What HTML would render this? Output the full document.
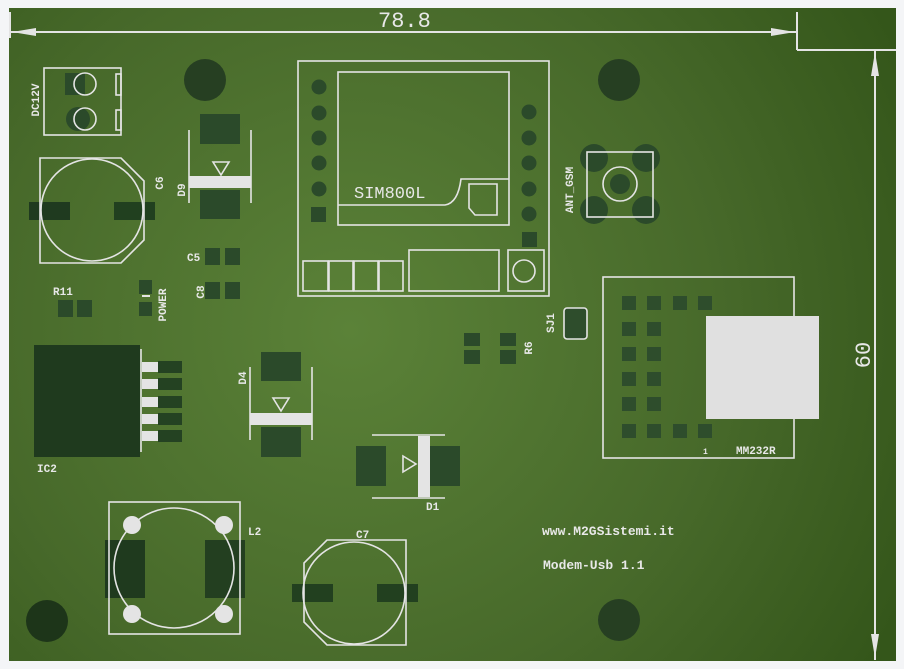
<!DOCTYPE html>
<html><head><meta charset="utf-8"><style>
html,body{margin:0;padding:0;background:#f4f5f7;width:904px;height:669px;overflow:hidden}
svg{display:block}
text{font-family:"Liberation Mono","DejaVu Sans Mono",monospace;fill:#e8e8e8;font-weight:bold}
</style></head><body>
<svg width="904" height="669" viewBox="0 0 904 669" xmlns="http://www.w3.org/2000/svg">
<defs>
<radialGradient id="bg" cx="350" cy="330" r="620" gradientUnits="userSpaceOnUse">
<stop offset="0" stop-color="#5b8238"/><stop offset="0.6" stop-color="#47692a"/><stop offset="1" stop-color="#34561a"/>
</radialGradient>
</defs>
<rect x="9" y="8" width="887" height="653" fill="url(#bg)"/>
<g stroke="#e4e4e4" stroke-width="2" fill="none">
<line x1="10" y1="32" x2="797" y2="32"/><line x1="10" y1="12" x2="10" y2="38"/>
<line x1="797" y1="12" x2="797" y2="50"/><line x1="797" y1="50" x2="896" y2="50"/>
<line x1="875" y1="50" x2="875" y2="660"/>
</g>
<g fill="#e4e4e4">
<polygon points="12,32 36,28 36,36"/><polygon points="795,32 771,28 771,36"/>
<polygon points="875,52 871,76 879,76"/><polygon points="875,658 871,634 879,634"/>
</g>
<text x="378" y="27" font-size="22" style="font-weight:normal">78.8</text>
<text transform="translate(870,355) rotate(-90)" font-size="22" text-anchor="middle" style="font-weight:normal">60</text>
<g fill="#263f22">
<circle cx="205" cy="80" r="21"/><circle cx="619" cy="80" r="21"/><circle cx="619" cy="620" r="21"/>
<circle cx="47" cy="621" r="21" fill="#1d3519"/>
</g>
<g fill="#2b4a2a">
<rect x="65" y="73" width="20" height="22"/><circle cx="78" cy="119" r="12"/>
<rect x="29" y="202" width="41" height="18" fill="#1f3a1f"/><rect x="114" y="202" width="41" height="18" fill="#21401f"/>
<rect x="200" y="114" width="40" height="30"/><rect x="200" y="190" width="40" height="29"/>
<rect x="205" y="248" width="15" height="17"/><rect x="225" y="248" width="15" height="17"/>
<rect x="205" y="282" width="15" height="17"/><rect x="225" y="282" width="15" height="17"/>
<rect x="58" y="300" width="15" height="17"/><rect x="77" y="300" width="15" height="17"/>
<rect x="139" y="280" width="13" height="14"/><rect x="139" y="302" width="13" height="14"/>
<circle cx="319" cy="87" r="7.5"/><circle cx="319" cy="113" r="7.5"/><circle cx="319" cy="138" r="7.5"/><circle cx="319" cy="163" r="7.5"/><circle cx="319" cy="189" r="7.5"/>
<rect x="311" y="207" width="15" height="15"/>
<circle cx="529" cy="112" r="7.5"/><circle cx="529" cy="138" r="7.5"/><circle cx="529" cy="163" r="7.5"/><circle cx="529" cy="189" r="7.5"/><circle cx="529" cy="214" r="7.5"/>
<rect x="522" y="232" width="15" height="15"/>
<circle cx="594" cy="158" r="14"/><circle cx="646" cy="158" r="14"/><circle cx="594" cy="210" r="14"/><circle cx="646" cy="210" r="14"/>
<circle cx="620" cy="184" r="10"/>
<rect x="464" y="333" width="16" height="13"/><rect x="464" y="350" width="16" height="14"/>
<rect x="500" y="333" width="16" height="13"/><rect x="500" y="350" width="16" height="14"/>
<rect x="261" y="352" width="40" height="29"/><rect x="261" y="427" width="40" height="30"/>
<rect x="356" y="446" width="30" height="40"/><rect x="430" y="446" width="30" height="40"/>
</g>
<g fill="#2e4d2c">
<rect x="622" y="296" width="14" height="14"/><rect x="647" y="296" width="14" height="14"/><rect x="673" y="296" width="14" height="14"/><rect x="698" y="296" width="14" height="14"/>
<rect x="622" y="322" width="14" height="14"/><rect x="647" y="322" width="14" height="14"/>
<rect x="622" y="347" width="14" height="14"/><rect x="647" y="347" width="14" height="14"/>
<rect x="622" y="372" width="14" height="14"/><rect x="647" y="372" width="14" height="14"/>
<rect x="622" y="397" width="14" height="14"/><rect x="647" y="397" width="14" height="14"/>
<rect x="622" y="424" width="14" height="14"/><rect x="647" y="424" width="14" height="14"/><rect x="673" y="424" width="14" height="14"/><rect x="698" y="424" width="14" height="14"/>
</g>
<rect x="34" y="345" width="106" height="112" fill="#1f3a1e"/>
<g fill="#e4e4e4"><rect x="142" y="362" width="16" height="10"/><rect x="142" y="379" width="16" height="10"/><rect x="142" y="397" width="16" height="10"/><rect x="142" y="414" width="16" height="10"/><rect x="142" y="431" width="16" height="10"/></g>
<g fill="#244222"><rect x="158" y="361" width="24" height="12"/><rect x="158" y="378" width="24" height="12"/><rect x="158" y="396" width="24" height="12"/><rect x="158" y="413" width="24" height="12"/><rect x="158" y="430" width="24" height="12"/></g>
<g fill="#e4e4e4">
<circle cx="132" cy="525" r="9"/><circle cx="224" cy="525" r="9"/><circle cx="132" cy="614" r="9"/><circle cx="224" cy="614" r="9"/>
</g>
<rect x="105" y="540" width="40" height="58" fill="#1f3a1e"/><rect x="205" y="540" width="40" height="58" fill="#233f20"/>
<rect x="292" y="584" width="41" height="18" fill="#22401f"/><rect x="377" y="584" width="41" height="18" fill="#22401f"/>
<g stroke="#e4e4e4" stroke-width="1.6" fill="none">
<rect x="44" y="68" width="77" height="67"/>
<circle cx="85" cy="84" r="11"/><circle cx="85" cy="119" r="11"/>
<rect x="116" y="74" width="5" height="21"/><rect x="116" y="110" width="5" height="20"/>
<polygon points="40,158 121,158 144,181 144,240 121,263 40,263"/>
<circle cx="92" cy="210" r="51"/>
<line x1="189" y1="130" x2="189" y2="203"/><line x1="251" y1="130" x2="251" y2="203"/>
<polygon points="213,162 229,162 221,175"/>
<rect x="298" y="61" width="251" height="235"/>
<rect x="338" y="72" width="171" height="153"/>
<path d="M338,205 H445 Q458,203 461,179 H509"/>
<path d="M469,184 H497 V215 H475 L469,208 Z"/>
<rect x="303" y="261" width="25" height="30"/><rect x="329" y="261" width="24" height="30"/><rect x="354" y="261" width="24" height="30"/><rect x="379" y="261" width="24" height="30"/>
<rect x="409" y="250" width="90" height="41"/>
<rect x="508" y="250" width="36" height="41"/><circle cx="524" cy="271" r="11"/>
<rect x="587" y="152" width="66" height="65"/>
<circle cx="620" cy="184" r="17"/>
<rect x="603" y="277" width="191" height="181"/>
<line x1="141" y1="349" x2="141" y2="452"/>
<line x1="250" y1="367" x2="250" y2="440"/><line x1="312" y1="367" x2="312" y2="440"/>
<polygon points="273,398 289,398 281,411"/>
<line x1="372" y1="435" x2="445" y2="435"/><line x1="372" y1="498" x2="445" y2="498"/>
<polygon points="403,456 403,472 416,464"/>
<rect x="109" y="502" width="131" height="132"/>
<circle cx="174" cy="568" r="60"/>
<polygon points="327,540 406,540 406,645 327,645 304,622 304,563"/>
<circle cx="354" cy="593" r="51"/>
</g>
<g fill="#e4e4e4">
<rect x="189" y="176" width="62" height="12"/>
<rect x="250" y="413" width="62" height="12"/>
<rect x="418" y="436" width="12" height="61"/>
<rect x="706" y="316" width="113" height="103" fill="#e0e0e0"/>
</g>
<rect x="564" y="308" width="23" height="31" rx="3" fill="#2e4d2c" stroke="#e4e4e4" stroke-width="1.6"/>
<rect x="142" y="295" width="8" height="2" fill="#e4e4e4"/>
<text x="354" y="198" font-size="17" style="font-weight:normal">SIM800L</text>
<text x="187" y="261" font-size="11">C5</text>
<text x="53" y="295" font-size="11">R11</text>
<text x="37" y="472" font-size="11">IC2</text>
<text x="248" y="535" font-size="11">L2</text>
<text x="356" y="538" font-size="11">C7</text>
<text x="426" y="510" font-size="11">D1</text>
<text x="703" y="454" font-size="8">1</text>
<text x="736" y="454" font-size="11">MM232R</text>
<text x="542" y="535" font-size="13">www.M2GSistemi.it</text>
<text x="543" y="569" font-size="13">Modem-Usb 1.1</text>
<text transform="translate(39,100) rotate(-90)" font-size="11" text-anchor="middle">DC12V</text>
<text transform="translate(163,183) rotate(-90)" font-size="11" text-anchor="middle">C6</text>
<text transform="translate(185,190) rotate(-90)" font-size="11" text-anchor="middle">D9</text>
<text transform="translate(204,292) rotate(-90)" font-size="11" text-anchor="middle">C8</text>
<text transform="translate(166,305) rotate(-90)" font-size="11" text-anchor="middle">POWER</text>
<text transform="translate(246,378) rotate(-90)" font-size="11" text-anchor="middle">D4</text>
<text transform="translate(573,190) rotate(-90)" font-size="11" text-anchor="middle">ANT_GSM</text>
<text transform="translate(554,323) rotate(-90)" font-size="11" text-anchor="middle">SJ1</text>
<text transform="translate(532,348) rotate(-90)" font-size="11" text-anchor="middle">R6</text>
</svg>
</body></html>
